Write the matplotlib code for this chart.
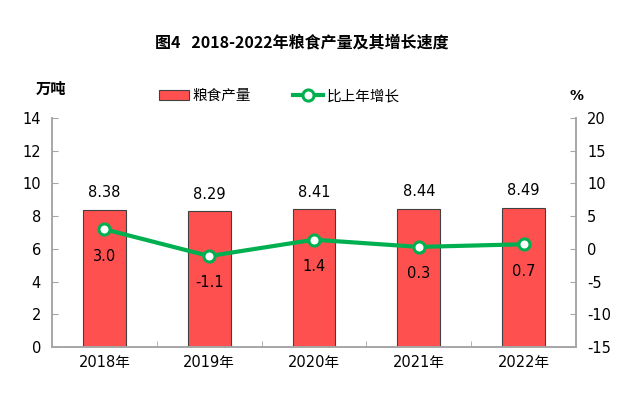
import matplotlib.pyplot as plt
import numpy as np

plt.rcParams['font.family'] = ['DejaVu Sans', 'Noto Sans CJK SC']
plt.rcParams['axes.unicode_minus'] = False

years = ['2018年', '2019年', '2020年', '2021年', '2022年']
output = [8.38, 8.29, 8.41, 8.44, 8.49]
growth = [3.0, -1.1, 1.4, 0.3, 0.7]

bar_color = '#FF5050'
line_color = '#00B050'
axis_grey = '#A6A6A6'
cjk = ['Noto Sans CJK SC', 'DejaVu Sans']

fig = plt.figure(figsize=(6.3, 3.98), dpi=100)
ax = fig.add_axes([52 / 630, 1 - 347 / 398, 524 / 630, 229 / 398])
ax2 = ax.twinx()

x = np.arange(len(years))
ax.bar(x, output, width=0.41, color=bar_color, edgecolor='#404040', linewidth=0.8,
       label='粮食产量', zorder=2)
for xi, v in zip(x, output):
    ax.text(xi, v + 0.6, f'{v:.2f}', ha='center', va='bottom', fontsize=10.5)

ax.set_xlim(-0.5, len(years) - 0.5)
ax.set_ylim(0, 14)
ax.set_yticks(np.arange(0, 15, 2))
ax.set_xticks(x)
ax.set_xticklabels(years, fontsize=10.5, family=['DejaVu Sans', 'Noto Sans CJK SC'])
ax.tick_params(axis='x', length=0, pad=6)
ax.set_xticks(np.arange(0.5, len(years) - 0.5, 1), minor=True)
ax.tick_params(axis='x', which='minor', direction='in', length=4, color=axis_grey)
ax.tick_params(axis='y', direction='in', length=4, color=axis_grey, labelsize=10.5, pad=8)

ax2.plot(x, growth, color=line_color, linewidth=3, marker='o', markersize=8,
         markerfacecolor='white', markeredgecolor=line_color, markeredgewidth=2.2,
         label='比上年增长', zorder=3)
for xi, v in zip(x, growth):
    ax2.text(xi, v - 4.1, f'{v:.1f}', ha='center', va='center', fontsize=10.5)
ax2.set_ylim(-15, 20)
ax2.set_yticks(np.arange(-15, 21, 5))
ax2.tick_params(axis='y', direction='in', length=4, color=axis_grey, labelsize=10.5, pad=8)

for a in (ax, ax2):
    a.spines['top'].set_visible(False)
    for s in ('left', 'right', 'bottom'):
        a.spines[s].set_color(axis_grey)
        a.spines[s].set_linewidth(1.2)

fig.text(302 / 630, 1 - 42 / 398, '图4   2018-2022年粮食产量及其增长速度', ha='center', va='center',
         fontsize=11.5, fontweight='bold', family=cjk)
fig.text(51 / 630, 1 - 89 / 398, '万吨', ha='center', va='center', fontsize=11,
         fontweight='bold', family=cjk)
fig.text(577 / 630, 1 - 96 / 398, '%', ha='center', va='center', fontsize=10,
         fontweight='bold')

h1, l1 = ax.get_legend_handles_labels()
h2, l2 = ax2.get_legend_handles_labels()
fig.legend(h1 + h2, l1 + l2, loc='center', bbox_to_anchor=(279 / 630, 1 - 96 / 398),
           ncol=2, frameon=False, handlelength=2.1, columnspacing=2.9,
           handletextpad=0.2, prop={'family': cjk, 'size': 10.5})

fig.savefig('out.png', dpi=100)
